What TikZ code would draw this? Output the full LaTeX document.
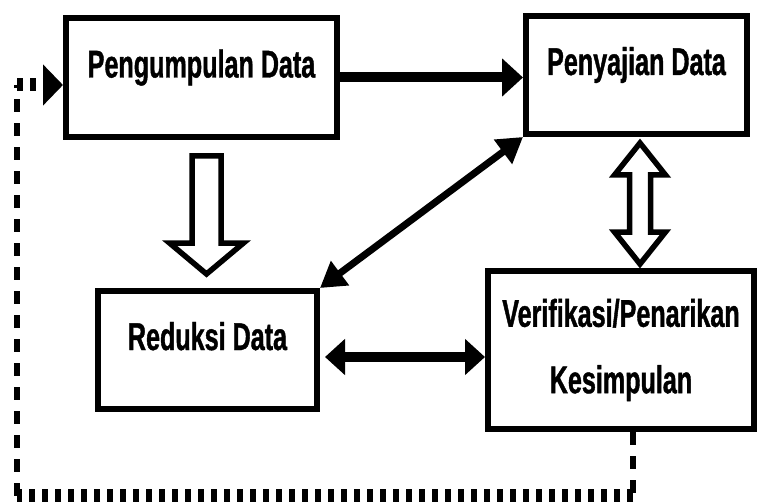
\documentclass[tikz,border=0pt]{standalone}
\usepackage{fontspec}
\newfontfamily\boxfont{Liberation Sans}[FakeStretch=0.65,FakeBold=1]
\usetikzlibrary{arrows.meta,calc}
\tikzset{
  node-box/.style={draw=black,line width=0.12cm,fill=white,align=center,
    font=\boxfont\bfseries\fontsize{22}{26.4}\selectfont},
  % one line of text, its baseline on the middle of the box
  node-one/.style={text height=0.55cm,text depth=0.55cm},
  arrow-bold/.style={-{Triangle[length=0.42cm,width=0.74cm]},line width=0.2cm},
  arrow-both/.style={{Triangle[length=0.4cm,width=0.7cm]}-{Triangle[length=0.4cm,width=0.7cm]},
    line width=0.2cm},
  arrow-diag/.style={{Triangle[length=0.5cm,width=0.58cm]}-{Triangle[length=0.5cm,width=0.58cm]},
    line width=0.14cm},
  block-arrow/.style={draw=black,fill=white,line width=0.11cm,line join=miter},
  feedback-v/.style={line width=0.12cm,dash pattern=on 0.26cm off 0.22cm},
  feedback-h/.style={line width=0.26cm,dash pattern=on 0.12cm off 0.14cm},
}
\begin{document}
\begin{tikzpicture}
  \useasboundingbox (0,0) rectangle (15.16,10.04);
  \node[node-box,node-one,minimum width=5.42cm,minimum height=2.38cm] (peng) at (4.03,8.49) {Pengumpulan Data};
  \node[node-box,node-one,minimum width=4.42cm,minimum height=2.36cm] (peny) at (12.73,8.54) {Penyajian Data};
  \node[node-box,node-one,minimum width=4.38cm,minimum height=2.36cm] (red) at (4.15,3.04) {Reduksi Data};
  \node[node-box,minimum width=5.32cm,minimum height=3.16cm] (verif) at (12.42,3.04) {Verifikasi/Penarikan\\[0.4cm]Kesimpulan};

  \draw[arrow-bold] (peng.east) -- (peng.east -| peny.west);
  \draw[arrow-diag] (red.north east) -- (peny.south west);
  \coordinate (hmid) at ($(red.east)+(0.1,-0.14)$);
  \draw[arrow-both] (hmid) -- (hmid -| verif.west);

  % open block arrows
  \draw[block-arrow,shift={($(red.north)+(-0.02,0.28)$)}]
    (0,0) -- (0.74,0.62) -- (0.29,0.62) -- (0.29,2.36) -- (-0.29,2.36)
    -- (-0.29,0.62) -- (-0.74,0.62) -- cycle;
  \draw[block-arrow,shift={($(peny.south)+(0.07,-1.33)$)}]
    (0,1.21) -- (0.51,0.57) -- (0.21,0.57) -- (0.21,-0.57) -- (0.51,-0.57)
    -- (0,-1.21) -- (-0.51,-0.57) -- (-0.21,-0.57) -- (-0.21,0.57)
    -- (-0.51,0.57) -- cycle;

  % feedback loop, dots drawn taller than wide
  \coordinate (fb-start) at ($(verif.south)+(0.24,0)$);
  \coordinate (fb-end) at ($(peng.west)+(0,-0.15)$);
  \coordinate (fb-br) at (fb-start |- 0,0.13);
  \coordinate (fb-bl) at (0.34,0.13);
  \coordinate (fb-tl) at (fb-bl |- fb-end);
  \draw[feedback-v] (fb-start) -- (fb-br);
  \draw[feedback-h] (fb-br) -- (fb-bl);
  \draw[feedback-v] (fb-bl) -- (fb-tl);
  \draw[feedback-h] (fb-tl) -- ($(fb-end)+(-0.4,0)$);
  \draw[-{Triangle[length=0.4cm,width=0.8cm]},line width=0.12cm]
    ($(fb-end)+(-0.38,0)$) -- (fb-end);
\end{tikzpicture}
\end{document}
